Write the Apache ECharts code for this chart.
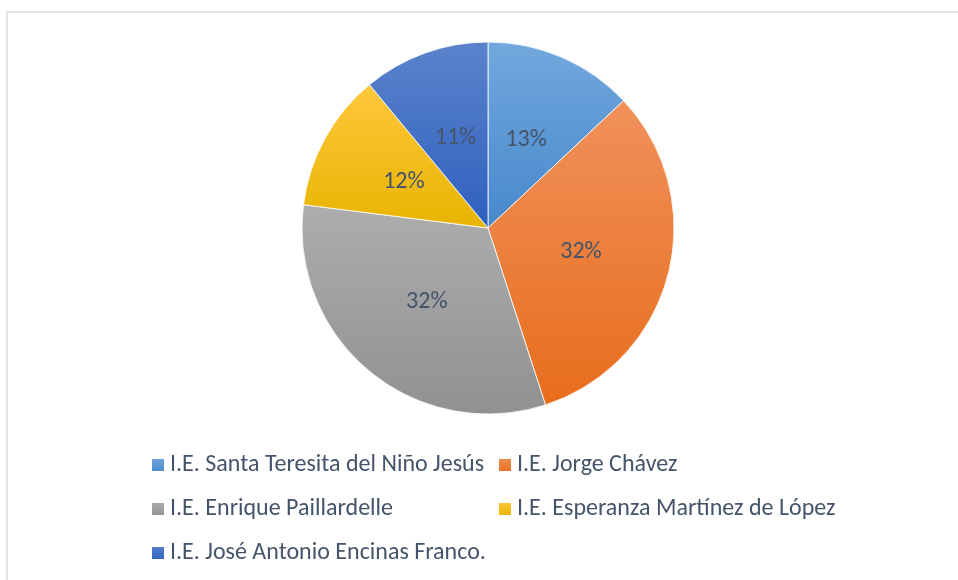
<!DOCTYPE html>
<html>
<head>
<meta charset="utf-8">
<script src="https://cdn.jsdelivr.net/npm/echarts@6/dist/echarts.min.js"></script>
<style>
html,body{margin:0;padding:0;background:#fff;}
#chart{width:958px;height:580px;}
</style>
</head>
<body>
<div id="chart"></div>
<script>
const categories = [
  'I.E. Santa Teresita del Niño Jesús',
  'I.E. Jorge Chávez',
  'I.E. Enrique Paillardelle',
  'I.E. Esperanza Martínez de López',
  'I.E. José Antonio Encinas Franco.'
];
const percentValues = [13, 32, 32, 12, 11];

const FONT = 'Carlito, Lato, "Noto Sans", sans-serif';
const TEXT = '#44546a';
const gradTop = ['#72a8dd', '#f0915b', '#adadad', '#ffc73d', '#5b83cc'];
const gradBot = ['#4788cc', '#e86d1c', '#919191', '#e8b400', '#2e60be'];

function grad(i) {
  return new echarts.graphic.LinearGradient(0, 0, 0, 1, [
    { offset: 0, color: gradTop[i] },
    { offset: 1, color: gradBot[i] }
  ]);
}

const legendPos = [
  { left: 150, top: 451 },
  { left: 497, top: 451 },
  { left: 150, top: 495 },
  { left: 497, top: 495 },
  { left: 150, top: 539 }
];

const legends = categories.map((c, i) => ({
  data: [c],
  left: legendPos[i].left,
  top: legendPos[i].top,
  padding: 0,
  itemWidth: 14,
  itemHeight: 14,
  icon: 'rect',
  selectedMode: false,
  textStyle: { fontFamily: FONT, fontSize: 24, color: TEXT, lineHeight: 28 }
}));

const chart = echarts.init(document.getElementById('chart'));
chart.setOption({
  animation: false,
  graphic: [{
    type: 'rect',
    shape: { x: 7, y: 12, width: 970, height: 600 },
    style: { fill: 'none', stroke: '#dfe4ea', lineWidth: 2 },
    silent: true
  }],
  legend: legends,
  series: [{
    type: 'pie',
    center: [488, 228],
    radius: 186,
    startAngle: 90,
    clockwise: true,
    label: {
      position: 'inside',
      formatter: p => Math.round(p.percent) + '%',
      fontFamily: FONT,
      fontSize: 24,
      color: TEXT
    },
    labelLine: { show: false },
    itemStyle: { borderColor: '#ffffff', borderWidth: 0.8 },
    emphasis: { disabled: true },
    data: categories.map((c, i) => ({
      name: c,
      value: percentValues[i],
      itemStyle: { color: grad(i) }
    }))
  }]
});
</script>
</body>
</html>
